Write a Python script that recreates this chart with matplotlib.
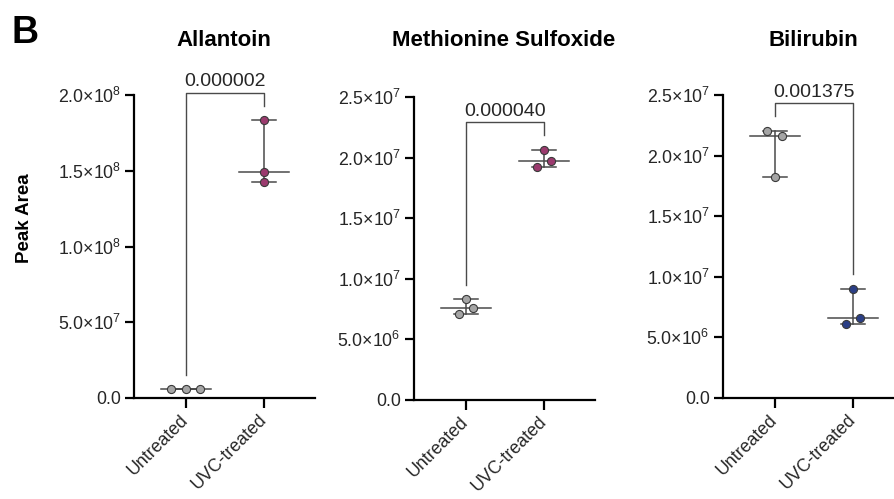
import numpy as np
import matplotlib
matplotlib.use("Agg")
from matplotlib import pyplot as plt
from matplotlib.ticker import FixedLocator, FuncFormatter

plt.rcParams['font.family'] = ['Liberation Sans', 'DejaVu Sans']
plt.rcParams['mathtext.fontset'] = 'custom'
plt.rcParams['mathtext.rm'] = 'Liberation Sans'
plt.rcParams['mathtext.it'] = 'Liberation Sans:italic'
plt.rcParams['mathtext.bf'] = 'Liberation Sans:bold'

# Données
groups = ["Untreated", "UVC-treated"]
titles = ["Allantoin", "Methionine Sulfoxide", "Bilirubin"]
pvalues = ["0.000002", "0.000040", "0.001375"]

allantoin_untreated = [5.8e6, 5.9e6, 5.8e6]
allantoin_uvc = [1.833e8, 1.494e8, 1.424e8]
metsulf_untreated = [8.31e6, 7.55e6, 7.07e6]
metsulf_uvc = [20.63e6, 19.75e6, 19.25e6]
bilirubin_untreated = [22.03e6, 21.6e6, 18.2e6]
bilirubin_uvc = [9.02e6, 6.63e6, 6.1e6]

# decalage horizontal des points (comme dans GraphPad)
jitter_allantoin = [[-0.19, 0.0, 0.18], [0.0, 0.0, 0.0]]
jitter_metsulf = [[0.0, 0.085, -0.085], [0.0, 0.095, -0.09]]
jitter_bilirubin = [[-0.1, 0.094, 0.0], [0.0, 0.094, -0.094]]

yticks_allantoin = [0, 5e7, 1e8, 1.5e8, 2e8]
yticks_25 = [0, 5e6, 1e7, 1.5e7, 2e7, 2.5e7]

panels = [
    (allantoin_untreated, allantoin_uvc, jitter_allantoin, yticks_allantoin, "#9b3a6e"),
    (metsulf_untreated, metsulf_uvc, jitter_metsulf, yticks_25, "#9b3a6e"),
    (bilirubin_untreated, bilirubin_uvc, jitter_bilirubin, yticks_25, "#2b3f86"),
]

W, H = 894, 499
fig = plt.figure(figsize=(W / 100, H / 100), dpi=100)

# positions des axes en pixels : (gauche, bas, haut)
boxes = [(134, 398, 95), (414, 400, 97), (723, 398, 95)]
ax_w = 181


def sci_fmt(v, pos):
    if v == 0:
        return "0.0"
    e = int(np.floor(np.log10(v)))
    m = v / 10 ** e
    return f"{m:.1f}×10$^{{{e}}}$"


line_col = "#4a4a4a"
txt_col = "#262626"
for i, (unt, uvc, jit, yt, col) in enumerate(panels):
    left, bot, top = boxes[i]
    ax = fig.add_axes([left / W, 1 - bot / H, ax_w / W, (bot - top) / H])
    for s in ["top", "right"]:
        ax.spines[s].set_visible(False)
    for s in ["left", "bottom"]:
        ax.spines[s].set_linewidth(1.6)
    ax.tick_params(axis="both", width=1.6, labelsize=12.8, colors="black")
    ax.tick_params(axis="y", length=6.5, pad=3, labelcolor=txt_col)
    ax.tick_params(axis="x", length=7, pad=7, labelcolor=txt_col)

    for g, (vals, fc) in enumerate([(unt, "#a5a5a5"), (uvc, col)]):
        med = np.median(vals)
        lo, hi = min(vals), max(vals)
        ax.plot([g, g], [lo, hi], color=line_col, lw=1.1, zorder=2)
        ax.plot([g - 0.16, g + 0.16], [lo, lo], color=line_col, lw=1.1, zorder=2)
        ax.plot([g - 0.16, g + 0.16], [hi, hi], color=line_col, lw=1.1, zorder=2)
        ax.plot([g - 0.32, g + 0.32], [med, med], color=line_col, lw=1.1, zorder=2)
        ax.scatter(np.array(jit[g]) + g, vals, s=34, c=fc, edgecolors="#3a3a3a",
                   linewidths=0.8, zorder=3)

    ax.set_xlim(-0.667, 1.654)
    ax.set_ylim(0, yt[-1])
    ax.yaxis.set_major_locator(FixedLocator(yt))
    ax.yaxis.set_major_formatter(FuncFormatter(sci_fmt))
    ax.set_xticks([0, 1])
    ax.set_xticklabels(groups, rotation=45, ha="right", va="center",
                       rotation_mode="anchor")

    # crochet de significativite
    gap = 0.048 * yt[-1]
    y0 = max(unt) + gap
    y1 = max(uvc) + gap
    ytop = max(y0, y1) + 0.9 * gap
    ax.plot([0, 0, 1, 1], [y0, ytop, ytop, y1], color=line_col, lw=1.0,
            clip_on=False, zorder=2)
    ax.annotate(pvalues[i], (0.5, ytop), xytext=(0, 2), textcoords="offset points",
                ha="center", va="bottom", fontsize=14, color=txt_col,
                annotation_clip=False)

    # titre du panneau
    fig.text((left + 90) / W, 1 - 40 / H, titles[i], ha="center", va="center",
             fontsize=16, fontweight="bold")

fig.text(25 / W, 1 - 218 / H, "Peak Area", rotation=90, ha="center", va="center",
         fontsize=13.5, fontweight="bold")
fig.text(12 / W, 1 - 33 / H, "B", ha="left", va="center", fontsize=27,
         fontweight="bold")

fig.savefig("out.png", dpi=100)
